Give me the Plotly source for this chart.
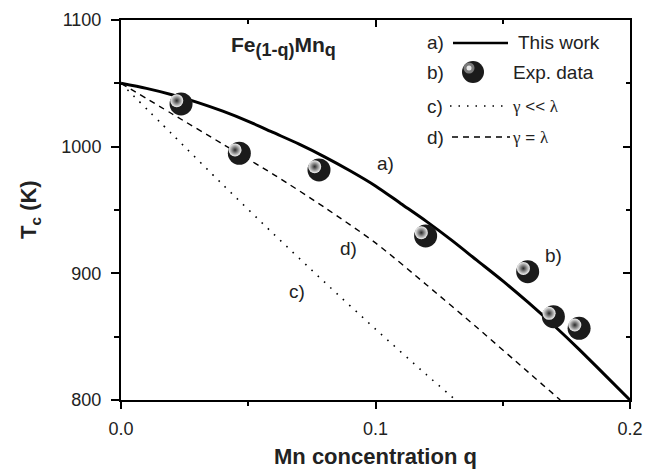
import plotly.graph_objects as go

# ---- data ----
q_exp = [0.0236, 0.0465, 0.0778, 0.1197, 0.1598, 0.1699, 0.1800]
tc_exp = [1033.7, 994.8, 981.6, 929.5, 901.3, 865.8, 856.6]

q_a = [0, 0.01, 0.02, 0.03, 0.04, 0.05, 0.06, 0.07, 0.08, 0.09, 0.10,
       0.11, 0.12, 0.13, 0.14, 0.15, 0.16, 0.17, 0.18, 0.19, 0.20]
tc_a = [1050, 1046, 1041, 1035, 1028, 1020, 1011, 1002, 992, 981, 969,
        955, 941, 926, 910, 894, 877, 859, 840, 820, 800]

q_c = [0, 0.02, 0.04, 0.06, 0.08, 0.10, 0.12, 0.1315]
tc_c = [1050, 1010, 970, 931, 893, 856, 820, 800]

q_d = [0, 0.02, 0.04, 0.06, 0.08, 0.10, 0.12, 0.14, 0.16, 0.1726]
tc_d = [1050, 1026, 1002, 978, 952, 924, 891, 857, 822, 800]

x_ticks = [0.0, 0.1, 0.2]
y_ticks = [800, 900, 1000, 1100]

# ---- layout geometry ----
W, H = 656, 474
L, R, T, B = 121, 26, 20, 74
XR = [0, 0.2]
YR = [800, 1100]
pw = W - L - R
ph = H - T - B

FONT = "Liberation Sans, Arial, sans-serif"
TXT = "#222222"


def px(x):
    return (x - L) / pw


def py(y):
    return (H - B - y) / ph


# highlight offset of the sphere markers (pixels -> data units)
dxh = -4.3 * (XR[1] - XR[0]) / pw
dyh = 3.3 * (YR[1] - YR[0]) / ph

fig = go.Figure()

fig.add_trace(go.Scatter(x=q_c, y=tc_c, mode="lines",
                         line=dict(color="black", width=1.6, dash="1.6px,7px",
                                   shape="spline", smoothing=0.8),
                         showlegend=False, hoverinfo="skip"))
fig.add_trace(go.Scatter(x=q_d, y=tc_d, mode="lines",
                         line=dict(color="black", width=1.4, dash="6px,5px",
                                   shape="spline", smoothing=0.8),
                         showlegend=False, hoverinfo="skip"))
fig.add_trace(go.Scatter(x=q_a, y=tc_a, mode="lines",
                         line=dict(color="black", width=3,
                                   shape="spline", smoothing=0.8),
                         showlegend=False, hoverinfo="skip"))
fig.add_trace(go.Scatter(x=q_exp, y=tc_exp, mode="markers",
                         marker=dict(size=23, color="#1b1b1b",
                                     line=dict(width=0)),
                         showlegend=False, hoverinfo="skip", cliponaxis=False))
fig.add_trace(go.Scatter(x=[q + dxh for q in q_exp],
                         y=[t + dyh for t in tc_exp], mode="markers",
                         marker=dict(size=13, color="#f4f4f4",
                                     gradient=dict(type="radial", color="#2a2a2a"),
                                     line=dict(width=0)),
                         showlegend=False, hoverinfo="skip", cliponaxis=False))
# invisible trace to activate the mirrored (top/right) axes
fig.add_trace(go.Scatter(x=[None], y=[None], xaxis="x2", yaxis="y2",
                         showlegend=False, hoverinfo="skip"))

axis_common = dict(showgrid=False, zeroline=False, showline=True,
                   linecolor="black", linewidth=2, tickcolor="black",
                   tickwidth=2)

fig.update_layout(
    width=W, height=H,
    margin=dict(l=L, r=R, t=T, b=B, autoexpand=False),
    paper_bgcolor="white", plot_bgcolor="white",
    font=dict(family=FONT, size=18, color=TXT),
    xaxis=dict(range=XR, tickvals=x_ticks, ticktext=[f"{v:.1f}" for v in x_ticks],
               ticks="outside", ticklen=7,
               minor=dict(dtick=0.05, ticks="outside", ticklen=4,
                          tickwidth=2, tickcolor="black"),
               tickfont=dict(size=18, color=TXT), ticklabelstandoff=4,
               **axis_common),
    yaxis=dict(range=YR, tickvals=y_ticks, ticks="outside", ticklen=8,
               minor=dict(dtick=50, ticks="outside", ticklen=5,
                          tickwidth=2, tickcolor="black"),
               tickfont=dict(size=18, color=TXT), ticklabelstandoff=6,
               **axis_common),
    xaxis2=dict(range=XR, overlaying="x", side="top", tickvals=x_ticks,
                ticks="inside", ticklen=7, showticklabels=False,
                minor=dict(dtick=0.05, ticks="inside", ticklen=4,
                           tickwidth=2, tickcolor="black"),
                **axis_common),
    yaxis2=dict(range=YR, overlaying="y", side="right", tickvals=y_ticks,
                ticks="inside", ticklen=7, showticklabels=False,
                minor=dict(dtick=50, ticks="inside", ticklen=4,
                           tickwidth=2, tickcolor="black"),
                **axis_common),
)

ann = []


def label(x, y, text, size=19, anchor="center", family=FONT):
    ann.append(dict(x=px(x), y=py(y), xref="paper", yref="paper", text=text,
                    showarrow=False, xanchor=anchor, yanchor="middle",
                    font=dict(size=size, family=family, color=TXT)))


# axis titles
ann.append(dict(x=0.5, y=py(457), xref="paper", yref="paper",
                text="<b>Mn concentration q</b>", showarrow=False,
                xanchor="center", yanchor="middle",
                font=dict(size=22, family=FONT, color=TXT)))
ann.append(dict(x=px(30), y=0.5, xref="paper", yref="paper",
                text="<b>T<sub>c</sub> (K)</b>", showarrow=False, textangle=-90,
                xanchor="center", yanchor="middle",
                font=dict(size=22, family=FONT, color=TXT)))

# compound title
ann.append(dict(x=px(229), y=py(46), xref="paper", yref="paper",
                text="<b>Fe<sub><span style='font-size:18px'>(1-q)</span></sub>"
                     "Mn<sub><span style='font-size:18px'>q</span></sub></b>",
                showarrow=False, xanchor="left", yanchor="middle",
                font=dict(size=21, family=FONT, color=TXT)))

# curve labels
label(385, 164, "a)")
label(553, 256, "b)")
label(297, 291, "c)")
label(348, 248, "d)")

# legend
label(435, 43, "a)")
label(516, 43, "This work", anchor="left")
label(435, 72, "b)")
label(511, 72, "Exp. data", anchor="left")
label(435, 106, "c)")
label(510, 106, "<span style='font-family:Liberation Serif'>γ</span> &lt;&lt; "
                "<span style='font-family:Liberation Serif'>λ</span>",
      size=17, anchor="left")
label(435, 137, "d)")
label(510, 137, "<span style='font-family:Liberation Serif'>γ</span> = "
                "<span style='font-family:Liberation Serif'>λ</span>",
      size=17, anchor="left")

shapes = [
    dict(type="line", xref="paper", yref="paper", x0=px(453), x1=px(508),
         y0=py(43), y1=py(43), line=dict(color="black", width=2.5)),
    dict(type="line", xref="paper", yref="paper", x0=px(450), x1=px(507),
         y0=py(106), y1=py(106), line=dict(color="black", width=1.5, dash="1.5px,7px")),
    dict(type="line", xref="paper", yref="paper", x0=px(452), x1=px(510),
         y0=py(137), y1=py(137), line=dict(color="black", width=1.3, dash="6px,5px")),
    dict(type="circle", xref="paper", yref="paper", x0=px(462), x1=px(484),
         y0=py(83), y1=py(61), fillcolor="#1b1b1b", line=dict(width=0)),
    dict(type="circle", xref="paper", yref="paper", x0=px(463.5), x1=px(474.5),
         y0=py(73.5), y1=py(62.5), fillcolor="#7a7a7a", line=dict(width=0)),
    dict(type="circle", xref="paper", yref="paper", x0=px(466.5), x1=px(471.5),
         y0=py(70.5), y1=py(65.5), fillcolor="#e8e8e8", line=dict(width=0)),
]

fig.update_layout(annotations=ann, shapes=shapes)

fig.write_html("out.html",
               config={"displayModeBar": False},
               post_script="document.body.style.margin='0';"
                           "document.body.style.padding='0';")
